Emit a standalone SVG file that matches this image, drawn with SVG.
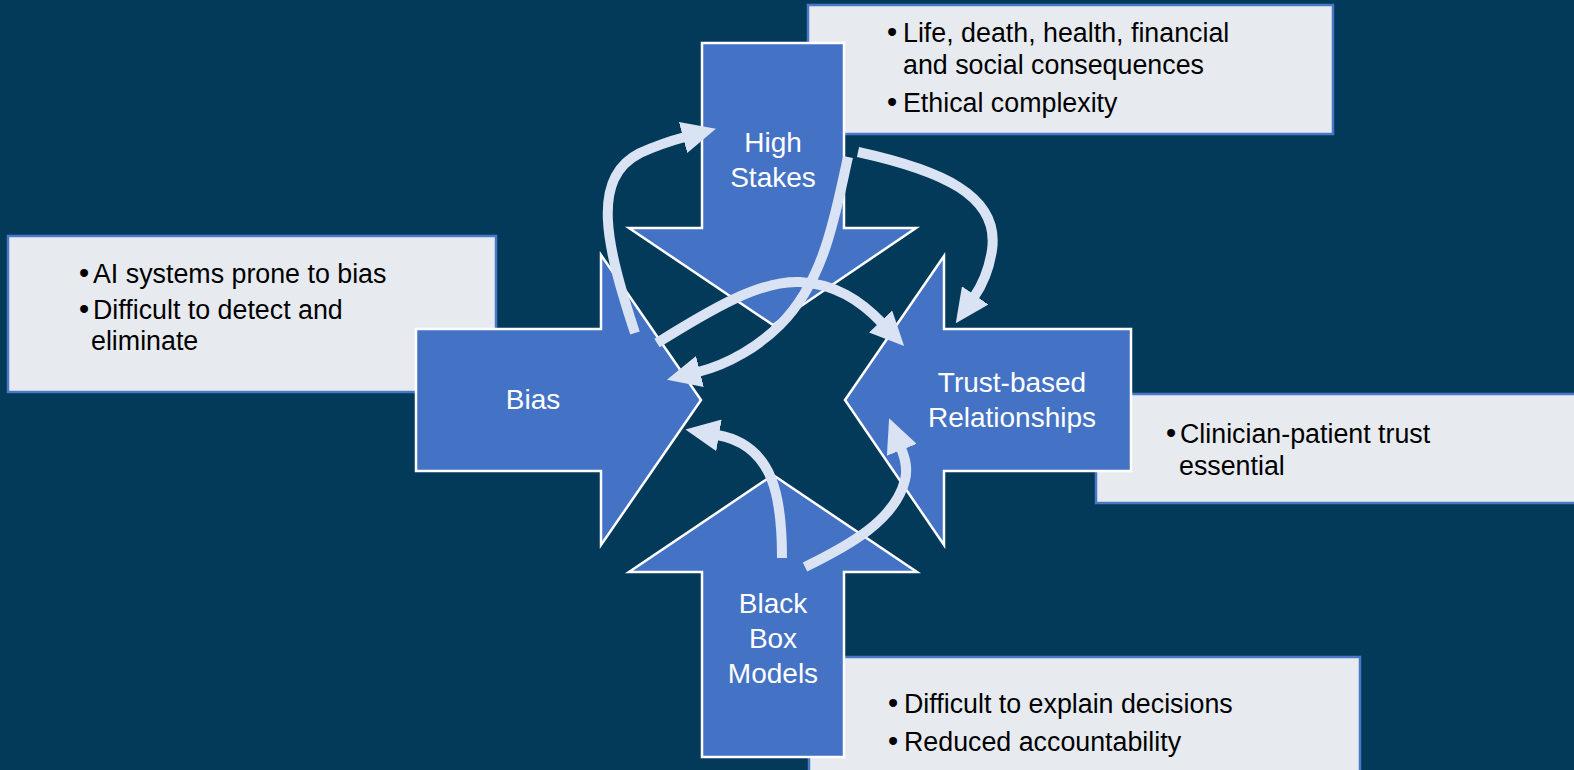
<svg xmlns="http://www.w3.org/2000/svg" width="1574" height="770" viewBox="0 0 1574 770">
<defs>
<style>
.bg{fill:#033A5A}
.box{fill:#E7EBF0;stroke:#4A78C6;stroke-width:2.5}
.shape{fill:#4472C4;stroke:#FFFFFF;stroke-width:2.5;stroke-linejoin:miter}
.lbl{font-family:"Liberation Sans",Arial,sans-serif;font-size:28px;fill:#FFFFFF;text-anchor:middle}
.txt{font-family:"Liberation Sans",Arial,sans-serif;font-size:26.8px;fill:#000000}
.b{font-size:29px}
.conn{fill:none;stroke:#DAE3F3;stroke-width:10;marker-end:url(#ah)}
</style>
<marker id="ah" markerUnits="userSpaceOnUse" viewBox="0 0 34 32" markerWidth="34" markerHeight="32" refX="2" refY="16" orient="auto">
<path d="M0,0 L34,16 L0,32 Z" fill="#DAE3F3"/>
</marker>
</defs>
<rect class="bg" x="0" y="0" width="1574" height="770"/>

<g id="box-high-stakes">
<rect class="box" x="808" y="5" width="525" height="129"/>
<text class="txt"><tspan class="b" x="887" y="42">•</tspan><tspan x="903" y="42">Life, death, health, financial</tspan><tspan x="903" y="74">and social consequences</tspan><tspan class="b" x="887" y="112">•</tspan><tspan x="903" y="112">Ethical complexity</tspan></text>
</g>
<g id="box-bias">
<rect class="box" x="8" y="236" width="488" height="156"/>
<text class="txt"><tspan class="b" x="79" y="283">•</tspan><tspan x="93" y="283">AI systems prone to bias</tspan><tspan class="b" x="79" y="319">•</tspan><tspan x="93" y="319">Difficult to detect and</tspan><tspan x="91" y="350">eliminate</tspan></text>
</g>
<g id="box-trust">
<rect class="box" x="1096" y="394" width="490" height="109"/>
<text class="txt"><tspan class="b" x="1166" y="443">•</tspan><tspan x="1180" y="443">Clinician-patient trust</tspan><tspan x="1179" y="475">essential</tspan></text>
</g>
<g id="box-black-box">
<rect class="box" x="809" y="657" width="551" height="125"/>
<text class="txt"><tspan class="b" x="888" y="713">•</tspan><tspan x="904" y="713">Difficult to explain decisions</tspan><tspan class="b" x="888" y="751">•</tspan><tspan x="904" y="751">Reduced accountability</tspan></text>
</g>

<g id="node-high-stakes">
<polygon class="shape" points="702,43 844,43 844,228 916,228 773,325 629,228 702,228"/>
<text class="lbl"><tspan x="773" y="152">High</tspan><tspan x="773" y="187">Stakes</tspan></text>
</g>
<g id="node-bias">
<polygon class="shape" points="416,329 601,329 601,255 701,400 601,545 601,471 416,471"/>
<text class="lbl" x="533" y="409">Bias</text>
</g>
<g id="node-trust">
<polygon class="shape" points="1131,329 944,329 944,256 845,400 944,545 944,471 1131,471"/>
<text class="lbl"><tspan x="1012" y="392">Trust-based</tspan><tspan x="1012" y="427">Relationships</tspan></text>
</g>
<g id="node-black-box">
<polygon class="shape" points="702,757 702,572 629,572 773,475 917,572 844,572 844,757"/>
<text class="lbl"><tspan x="773" y="613">Black</tspan><tspan x="773" y="648">Box</tspan><tspan x="773" y="683">Models</tspan></text>
</g>

<g id="connectors">
<path class="conn" d="M635,333 C606,245 590,178 640,153 C660,144 670,141 685,137"/>
<path class="conn" d="M858,152 C940,170 1000,195 992,250 C989,270 983,284 974,297"/>
<path class="conn" d="M848,157 C835,215 825,280 780,325 C760,345 730,364 698,372"/>
<path class="conn" d="M657,343 C710,310 760,280 800,282 C835,284 860,300 882,323"/>
<path class="conn" d="M782,558 C782,500 775,445 717,435"/>
<path class="conn" d="M805,567 C850,545 895,520 905,480 C908,468 905,458 901,448"/>
</g>
</svg>
